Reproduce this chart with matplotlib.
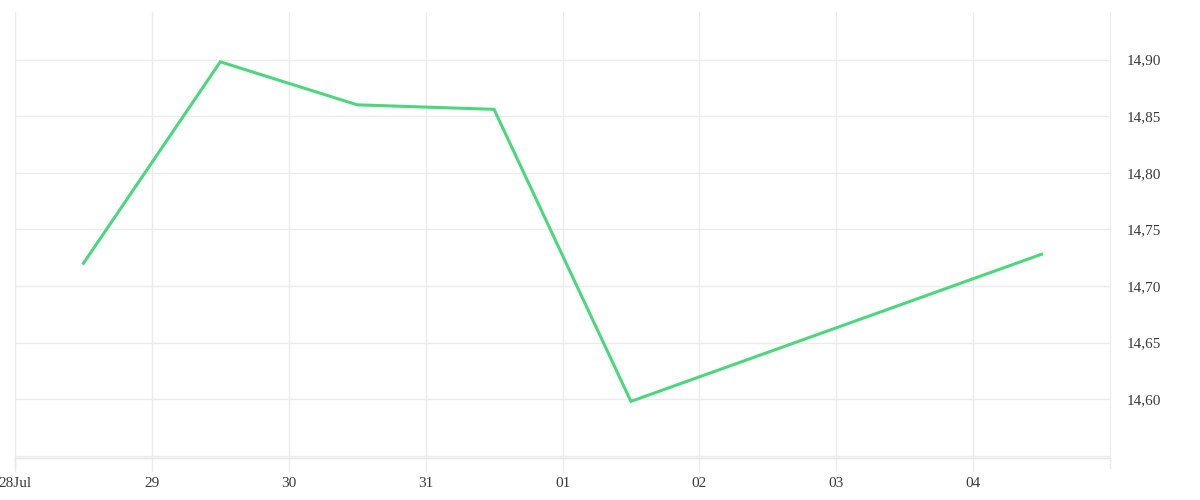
import numpy as np
import matplotlib
matplotlib.use("Agg")
import matplotlib.pyplot as plt
import matplotlib.dates as mdates
from matplotlib.ticker import FuncFormatter

# data (one point per day, at midday)
dates = np.array(["2024-07-28T12:00", "2024-07-29T12:00", "2024-07-30T12:00",
                  "2024-07-31T12:00", "2024-08-01T12:00", "2024-08-04T12:00"],
                 dtype="datetime64[m]")
prices = [14.720, 14.898, 14.860, 14.856, 14.598, 14.728]

tick_days = np.arange(np.datetime64("2024-07-28"), np.datetime64("2024-08-05"))
tick_labels = ["28Jul", "29", "30", "31", "01", "02", "03", "04"]
y_ticks = [14.55, 14.60, 14.65, 14.70, 14.75, 14.80, 14.85, 14.90]

line_col = "#4cd67e"
grid_col = "#ebebeb"
text_col = "#3a3a3a"

plt.rcParams["font.family"] = ["Liberation Serif", "DejaVu Serif"]

fig = plt.figure(figsize=(12, 5), dpi=100)
ax = fig.add_axes([15 / 1200, 42 / 500, 1095 / 1200, 446 / 500])

x = mdates.date2num(dates.astype("datetime64[s]").astype(object))
ax.plot(x, prices, color=line_col, lw=2.2, solid_joinstyle="miter")

xt = mdates.date2num(tick_days.astype("datetime64[s]").astype(object))
ax.set_xlim(xt[0], xt[0] + 8)
ax.set_ylim(14.548, 14.942)

ax.set_xticks(xt)
ax.set_xticklabels(tick_labels)
ax.set_yticks(y_ticks)
ax.yaxis.set_major_formatter(FuncFormatter(
    lambda v, p: "" if abs(v - 14.55) < 1e-6 else f"{v:.2f}".replace(".", ",")))
ax.yaxis.tick_right()

ax.grid(True, color=grid_col, lw=1)
ax.set_axisbelow(True)
ax.tick_params(axis="x", length=10, width=1, color=grid_col, pad=4,
               labelsize=11, labelcolor=text_col)
ax.tick_params(axis="y", length=0, pad=12, labelsize=11, labelcolor=text_col)

for side in ["top", "left"]:
    ax.spines[side].set_visible(False)
ax.spines["right"].set_color(grid_col)
ax.spines["bottom"].set_color("#e4e4e4")
ax.spines["bottom"].set_linewidth(1)

# left and right edge lines run a little below the axis like the ticks
for xe in [xt[0], xt[0] + 8]:
    ax.plot([xe, xe], [14.548, 14.548 - 0.009], color=grid_col, lw=1,
            clip_on=False)

fig.savefig("out.png", dpi=100, facecolor="white")
